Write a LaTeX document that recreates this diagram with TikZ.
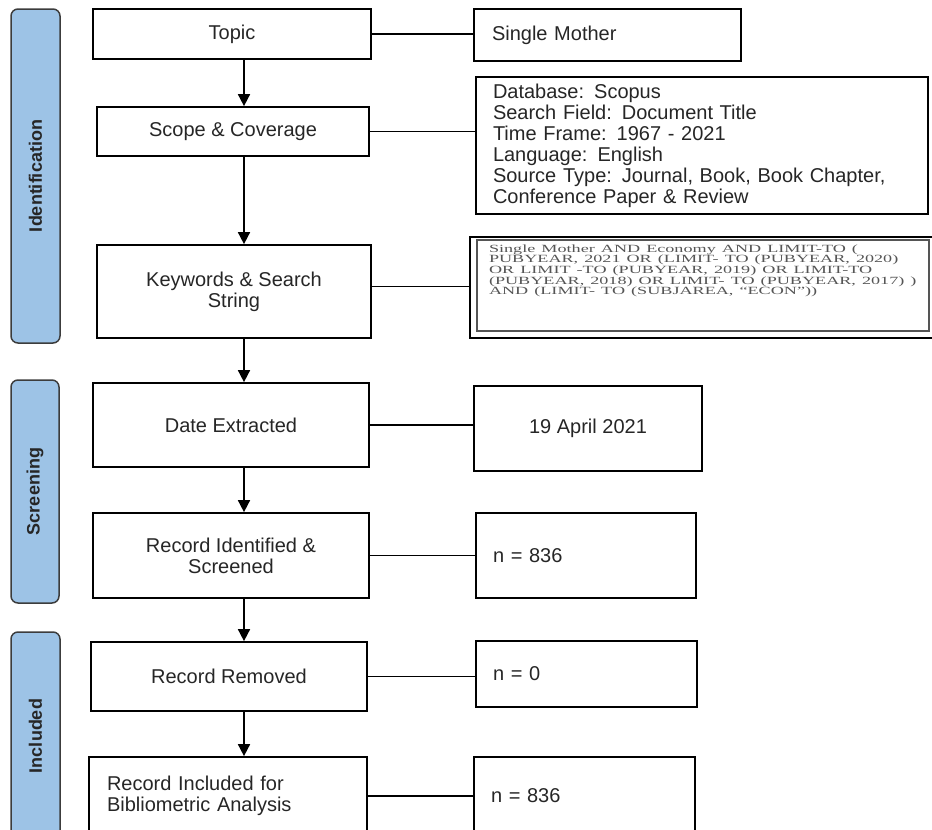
\documentclass[tikz,border=0pt]{standalone}
\usepackage{fontspec}
\usepackage{graphicx}
\setmainfont{Liberation Sans}
\newfontfamily\queryfont{Liberation Serif}
\usetikzlibrary{arrows.meta}

\definecolor{stageblue}{RGB}{157,195,230}
\definecolor{stageline}{RGB}{60,60,60}
\definecolor{querygray}{RGB}{85,85,85}

\tikzset{
  stage/.style={draw=stageline,line width=1.5pt,fill=stageblue,rounded corners=7pt,
    rotate=90,inner sep=0pt,font=\fontsize{18}{18}\selectfont\bfseries,text=black!85},
  box/.style={draw,line width=1.7pt,align=center,inner sep=0pt,text=black!85,
    font=\fontsize{20}{21}\selectfont},
  info/.style={box,align=left,inner xsep=17pt},
  link/.style={line width=1.6pt},
  flow/.style={link,-{Triangle[width=12pt,length=12pt]}}
}

\begin{document}
\begin{tikzpicture}[x=1pt,y=-1pt]
  \useasboundingbox (0,0) rectangle (932,830);
  \clip (0,0) rectangle (932,830);

  % phases
  \node (sIdent) at (35.5,176) [stage,minimum width=334,minimum height=49]{Identification};
  \node (sScreen) at (35,491.5) [stage,minimum width=223,minimum height=48]{Screening};
  \node (sIncl) at (35.5,736) [stage,minimum width=208,minimum height=49]{Included};

  % main column
  \node (topic) at (232,34) [box,minimum width=278,minimum height=50]{Topic};
  \node (scope) at (233,131.5) [box,minimum width=272,minimum height=49]{Scope \& Coverage};
  \node (keys) at (234,291.5) [box,minimum width=274,minimum height=93]{Keywords \& Search\\String};
  \node (date) at (231,425) [box,minimum width=276,minimum height=84]{Date Extracted};
  \node (ident) at (231,555.5) [box,minimum width=276,minimum height=85]{Record Identified \&\\Screened};
  \node (removed) at (229,676.5) [box,minimum width=276,minimum height=69]{Record Removed};
  \node (incl) at (228,796) [info,text width=242,minimum height=78,inner xsep=18pt]{Record Included for\\Bibliometric Analysis};

  % details
  \node (single) at (607.5,35) [info,text width=231,minimum height=52,inner xsep=18pt]{Single Mother};
  \node (db) at (702,145.5) [info,text width=418,minimum height=137]{Database: Scopus\\Search Field: Document Title\\Time Frame: 1967 - 2021\\Language: English\\Source Type: Journal, Book, Book Chapter,\\Conference Paper \& Review};
  \node (query) at (708.5,287.5) [draw,line width=1.7pt,minimum width=473,minimum height=101,
    text width=439,inner xsep=19pt,align=left,text=querygray,
    font=\queryfont\fontsize{11}{10.6}\selectfont]{%
    \raisebox{14pt}[0pt][0pt]{\scalebox{1.65}[1]{\parbox{265pt}{\lineskiplimit=-\maxdimen
      Single Mother AND Economy AND LIMIT-TO (\\
      PUBYEAR, 2021 OR (LIMIT- TO (PUBYEAR, 2020)\\
      OR LIMIT -TO (PUBYEAR, 2019) OR LIMIT-TO\\
      (PUBYEAR, 2018) OR LIMIT- TO (PUBYEAR, 2017) )\\
      AND (LIMIT- TO (SUBJAREA, “ECON”))}}}};
  \draw[querygray,line width=1.5pt] ([shift={(8,4)}]query.north west) rectangle ([shift={(-19,-8)}]query.south east);
  \node (april) at (588,428.5) [box,minimum width=228,minimum height=85]{19 April 2021};
  \node (nIdent) at (586,555.5) [info,text width=186,minimum height=85]{n = 836};
  \node (nRemoved) at (586.5,674) [info,text width=187,minimum height=66]{n = 0};
  \node (nIncl) at (584.5,796) [info,text width=187,minimum height=78]{n = 836};

  \coordinate (spine) at (244,0);

  \draw[flow] (topic.south -| spine) -- (scope.north -| spine);
  \draw[flow] (scope.south -| spine) -- (keys.north -| spine);
  \draw[flow] (keys.south -| spine) -- (date.north -| spine);
  \draw[flow] (date.south -| spine) -- (ident.north -| spine);
  \draw[flow] (ident.south -| spine) -- (removed.north -| spine);
  \draw[flow] (removed.south -| spine) -- (incl.north -| spine);

  \draw[link] (topic.east) -- (topic.east -| single.west);
  \draw[link] (scope.east) -- (scope.east -| db.west);
  \draw[link] ([yshift=5pt]keys.east) -- ([yshift=5pt]keys.east -| query.west);
  \draw[link] (date.east) -- (date.east -| april.west);
  \draw[link] (ident.east) -- (ident.east -| nIdent.west);
  \draw[link] (removed.east) -- (removed.east -| nRemoved.west);
  \draw[link] (incl.east) -- (incl.east -| nIncl.west);

\end{tikzpicture}
\end{document}
